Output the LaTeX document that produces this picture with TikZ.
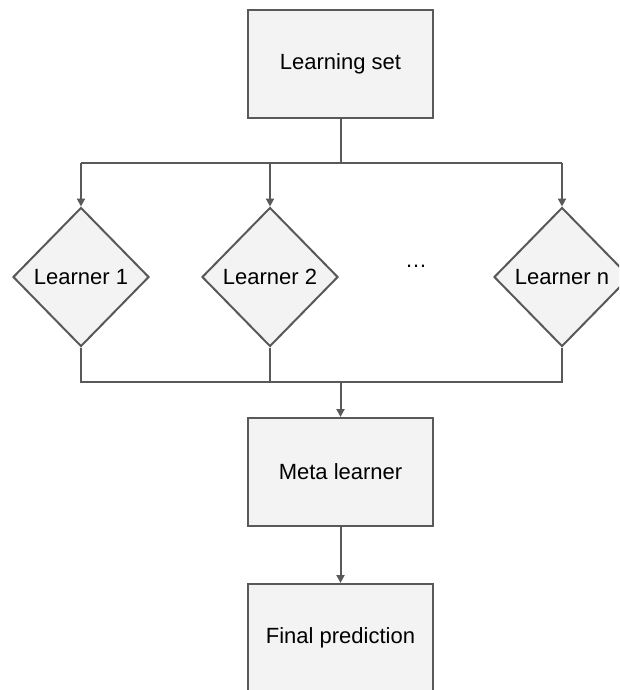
\documentclass[tikz,border=0pt]{standalone}
\usepackage{fontspec}
\setmainfont{Liberation Sans}
\usetikzlibrary{shapes.geometric,arrows.meta}
\definecolor{edge}{HTML}{595959}
\definecolor{boxfill}{HTML}{F3F3F3}
\tikzset{
  labelfont/.style={font=\fontsize{22}{26}\selectfont},
  stagebox/.style={draw=edge, fill=boxfill, line width=2pt, rectangle,
    minimum width=185pt, minimum height=108pt, inner sep=0pt, labelfont},
  learnerbox/.style={draw=edge, fill=boxfill, line width=2pt, diamond,
    minimum width=136pt, minimum height=139pt, inner sep=0pt, labelfont},
  wire/.style={draw=edge, line width=2pt},
  flow/.style={wire, -{Triangle[length=8pt,width=8pt]}}
}
\begin{document}
\begin{tikzpicture}[x=1pt,y=-1pt]
  \useasboundingbox (0,0) rectangle (619,690);
  \clip (0,0) rectangle (619,690);

  \node[stagebox] (ls) at (340.5,64) {Learning set};
  \node[learnerbox] (l1) at (81,277) {Learner 1};
  \node[learnerbox] (l2) at (270,277) {Learner 2};
  \node[learnerbox] (ln) at (562,277) {Learner n};
  \node[labelfont] (dots) at (416,266) {\dots};
  \node[stagebox] (meta) at (340.5,472) {Meta learner};
  \node[stagebox] (final) at (340.5,638) {Final prediction};

  \coordinate (split) at (340.5,163);
  \coordinate (merge) at (340.5,382);

  % fan-out from the learning set
  \draw[wire] (ls) -- (split);
  \draw[wire] (l1.north |- split) -- (ln.north |- split);
  \draw[flow] (l1.north |- split) -- (l1.north);
  \draw[flow] (l2.north |- split) -- (l2.north);
  \draw[flow] (ln.north |- split) -- (ln.north);

  % gather into the meta learner
  \draw[wire] (l1.south) -- (l1.south |- merge) -- (ln.south |- merge) -- (ln.south);
  \draw[wire] (l2.south) -- (l2.south |- merge);
  \draw[flow] (merge) -- (meta.north);
  \draw[flow] (meta) -- (final);
\end{tikzpicture}
\end{document}
